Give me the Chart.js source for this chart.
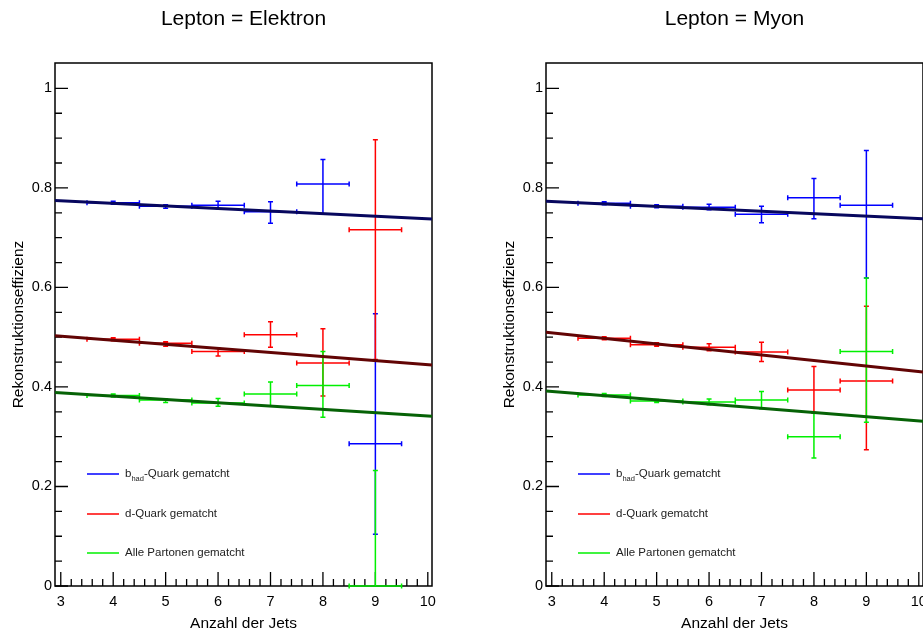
<!DOCTYPE html>
<html>
<head>
<meta charset="utf-8">
<script src="https://cdn.jsdelivr.net/npm/chart.js@4.4.1/dist/chart.umd.min.js"></script>
<style>
  html, body { margin:0; padding:0; background:#fff; overflow:hidden; width:923px; height:637px; }
  canvas { position:absolute; top:0; }
  #chartE { left:0; }
  #chartM { left:491px; }
</style>
</head>
<body>
<canvas id="chartE" width="461" height="637"></canvas>
<canvas id="chartM" width="461" height="637"></canvas>
<script>
// Bin-Mitten (Anzahl der Jets), halbe Binbreite
const jets = [4, 5, 6, 7, 8, 9];
const jetsErr = 0.5;

// Achsen
const xMin = 2.89, xMax = 10.08;
const yMin = 0, yMax = 1.051;
const xTicks = [3, 4, 5, 6, 7, 8, 9, 10];
const xLabels = ['3', '4', '5', '6', '7', '8', '9', '10'];
const yTicks = [0, 0.2, 0.4, 0.6, 0.8, 1];
const yLabels = ['0', '0.2', '0.4', '0.6', '0.8', '1'];

const legendLabels = ['-Quark gematcht', 'd-Quark gematcht', 'Alle Partonen gematcht'];

// Lepton = Elektron
const eBhad    = [0.770, 0.763, 0.765, 0.752, 0.808, 0.286];
const eBhadLo  = [0.767, 0.759, 0.758, 0.729, 0.748, 0.104];
const eBhadHi  = [0.773, 0.766, 0.773, 0.772, 0.857, 0.547];
const eDq      = [0.496, 0.488, 0.471, 0.505, 0.448, 0.716];
const eDqLo    = [0.493, 0.482, 0.462, 0.480, 0.382, 0.455];
const eDqHi    = [0.499, 0.491, 0.478, 0.531, 0.517, 0.897];
const eAll     = [0.383, 0.374, 0.368, 0.386, 0.403, 0.000];
const eAllLo   = [0.380, 0.369, 0.361, 0.362, 0.339, 0.000];
const eAllHi   = [0.386, 0.376, 0.377, 0.410, 0.471, 0.232];
const eFitBhad = [0.7745, 0.7375];
const eFitDq   = [0.503, 0.444];
const eFitAll  = [0.389, 0.341];

// Lepton = Myon
const mBhad    = [0.769, 0.763, 0.761, 0.747, 0.780, 0.765];
const mBhadLo  = [0.766, 0.760, 0.756, 0.730, 0.738, 0.619];
const mBhadHi  = [0.772, 0.766, 0.767, 0.763, 0.819, 0.875];
const mDq      = [0.498, 0.485, 0.480, 0.470, 0.394, 0.412];
const mDqLo    = [0.495, 0.482, 0.473, 0.451, 0.347, 0.274];
const mDqHi    = [0.501, 0.489, 0.487, 0.490, 0.441, 0.562];
const mAll     = [0.384, 0.372, 0.370, 0.374, 0.300, 0.471];
const mAllLo   = [0.381, 0.369, 0.364, 0.356, 0.257, 0.329];
const mAllHi   = [0.387, 0.375, 0.376, 0.391, 0.348, 0.619];
const mFitBhad = [0.773, 0.738];
const mFitDq   = [0.510, 0.430];
const mFitAll  = [0.392, 0.331];

const colors = ['#0000ff', '#ff0000', '#00f000'];
const fitColors = ['#07075e', '#620404', '#066206'];

Chart.defaults.font.family = '"Liberation Sans", Arial, Helvetica, sans-serif';
Chart.defaults.color = '#000';

// Rahmen + Ticks nach innen (ROOT-Stil)
const framePlugin = {
  id: 'frame',
  beforeDatasetsDraw(chart) {
    const {ctx, chartArea: a, scales: {x, y}} = chart;
    ctx.save();
    ctx.strokeStyle = '#000';
    ctx.lineWidth = 1.5;
    ctx.strokeRect(a.left, a.top, a.right - a.left, a.bottom - a.top);
    ctx.lineWidth = 1.3;
    ctx.beginPath();
    for (let i = 0; i <= 35; i++) {
      const v = 3 + i * 0.2;
      const px = x.getPixelForValue(v);
      const len = i % 5 === 0 ? 14 : 7;
      ctx.moveTo(px, a.bottom);
      ctx.lineTo(px, a.bottom - len);
    }
    for (let i = 0; i <= 20; i++) {
      const v = i * 0.05;
      const py = y.getPixelForValue(v);
      const len = i % 4 === 0 ? 13 : 7;
      ctx.moveTo(a.left, py);
      ctx.lineTo(a.left + len, py);
    }
    ctx.stroke();
    ctx.restore();
  }
};

// Fehlerbalken direkt nach dem jeweiligen Datensatz
const errorBarPlugin = {
  id: 'errorBars',
  afterDatasetDraw(chart, args) {
    const ds = chart.data.datasets[args.index];
    if (!ds.errorBars) return;
    const {ctx, scales: {x, y}} = chart;
    const cap = 2.5;
    ctx.save();
    ctx.strokeStyle = ds.borderColor;
    ctx.lineWidth = 1.5;
    ctx.beginPath();
    ds.data.forEach(p => {
      const px = x.getPixelForValue(p.x);
      const py = y.getPixelForValue(p.y);
      const x0 = x.getPixelForValue(p.x - jetsErr);
      const x1 = x.getPixelForValue(p.x + jetsErr);
      const y0 = y.getPixelForValue(p.lo);
      const y1 = y.getPixelForValue(p.hi);
      ctx.moveTo(x0, py); ctx.lineTo(x1, py);
      ctx.moveTo(x0, py - cap); ctx.lineTo(x0, py + cap);
      ctx.moveTo(x1, py - cap); ctx.lineTo(x1, py + cap);
      ctx.moveTo(px, y0); ctx.lineTo(px, y1);
      ctx.moveTo(px - cap, y0); ctx.lineTo(px + cap, y0);
      ctx.moveTo(px - cap, y1); ctx.lineTo(px + cap, y1);
    });
    ctx.stroke();
    ctx.restore();
  }
};

// Legende im Plot
const legendPlugin = {
  id: 'rootLegend',
  afterDraw(chart) {
    const ctx = chart.ctx;
    const rows = [474, 514, 553];
    ctx.save();
    ctx.textBaseline = 'middle';
    ctx.textAlign = 'left';
    ctx.fillStyle = '#222';
    rows.forEach((ry, i) => {
      ctx.strokeStyle = colors[i];
      ctx.lineWidth = 1.5;
      ctx.beginPath();
      ctx.moveTo(87, ry); ctx.lineTo(119, ry);
      ctx.stroke();
      let tx = 125;
      ctx.font = '11.5px "Liberation Sans", Arial, sans-serif';
      if (i === 0) {
        ctx.fillText('b', tx, ry);
        tx += ctx.measureText('b').width;
        ctx.font = '7.5px "Liberation Sans", Arial, sans-serif';
        ctx.fillText('had', tx, ry + 5);
        tx += ctx.measureText('had').width;
        ctx.font = '11.5px "Liberation Sans", Arial, sans-serif';
      }
      ctx.fillText(legendLabels[i], tx, ry);
    });
    ctx.restore();
  }
};

function pts(y, lo, hi) {
  return jets.map((x, i) => ({x: x, y: y[i], lo: lo[i], hi: hi[i]}));
}

function fitLine(f, color) {
  return {
    type: 'line',
    data: [{x: xMin, y: f[0]}, {x: xMax, y: f[1]}],
    borderColor: color,
    borderWidth: 3,
    pointRadius: 0,
    fill: false
  };
}

function dataSet(p, color) {
  return {
    type: 'scatter',
    data: p,
    borderColor: color,
    backgroundColor: color,
    pointRadius: 0,
    errorBars: true
  };
}

function makeChart(id, title, d, fits) {
  const ctx = document.getElementById(id).getContext('2d');
  return new Chart(ctx, {
    type: 'scatter',
    data: {
      // erster Datensatz wird zuletzt gezeichnet
      datasets: [
        fitLine(fits[0], fitColors[0]),
        fitLine(fits[1], fitColors[1]),
        fitLine(fits[2], fitColors[2]),
        dataSet(d[2], colors[2]),
        dataSet(d[1], colors[1]),
        dataSet(d[0], colors[0])
      ]
    },
    options: {
      responsive: false,
      animation: false,
      events: [],
      layout: {padding: {left: 0, right: 29, top: 0, bottom: 0}},
      plugins: {
        legend: {display: false},
        tooltip: {enabled: false},
        title: {
          display: true,
          text: title,
          fullSize: false,
          font: {size: 21, weight: 'normal'},
          padding: {top: 7, bottom: 30.8}
        }
      },
      scales: {
        x: {
          type: 'linear',
          min: xMin,
          max: xMax,
          afterBuildTicks: s => { s.ticks = xTicks.map(v => ({value: v})); },
          afterFit: s => { s.height = 51; },
          grid: {display: false, drawTicks: false},
          border: {display: false},
          ticks: {
            autoSkip: false,
            maxRotation: 0,
            padding: 7,
            font: {size: 14.5},
            callback: (v, i) => xLabels[i]
          },
          title: {
            display: true,
            text: 'Anzahl der Jets',
            font: {size: 15.5},
            padding: {top: 0, bottom: 3.8}
          }
        },
        y: {
          type: 'linear',
          min: yMin,
          max: yMax,
          afterBuildTicks: s => { s.ticks = yTicks.map(v => ({value: v})); },
          afterFit: s => { s.width = 55; },
          grid: {display: false, drawTicks: false},
          border: {display: false},
          ticks: {
            autoSkip: false,
            padding: 3,
            font: {size: 14.5},
            callback: (v, i) => yLabels[i]
          },
          title: {
            display: true,
            text: 'Rekonstruktionseffizienz',
            font: {size: 15.5},
            padding: {top: 9, bottom: 0}
          }
        }
      }
    },
    plugins: [framePlugin, errorBarPlugin, legendPlugin]
  });
}

makeChart('chartE', 'Lepton = Elektron',
  [pts(eBhad, eBhadLo, eBhadHi), pts(eDq, eDqLo, eDqHi), pts(eAll, eAllLo, eAllHi)],
  [eFitBhad, eFitDq, eFitAll]);

makeChart('chartM', 'Lepton = Myon',
  [pts(mBhad, mBhadLo, mBhadHi), pts(mDq, mDqLo, mDqHi), pts(mAll, mAllLo, mAllHi)],
  [mFitBhad, mFitDq, mFitAll]);
</script>
</body>
</html>
